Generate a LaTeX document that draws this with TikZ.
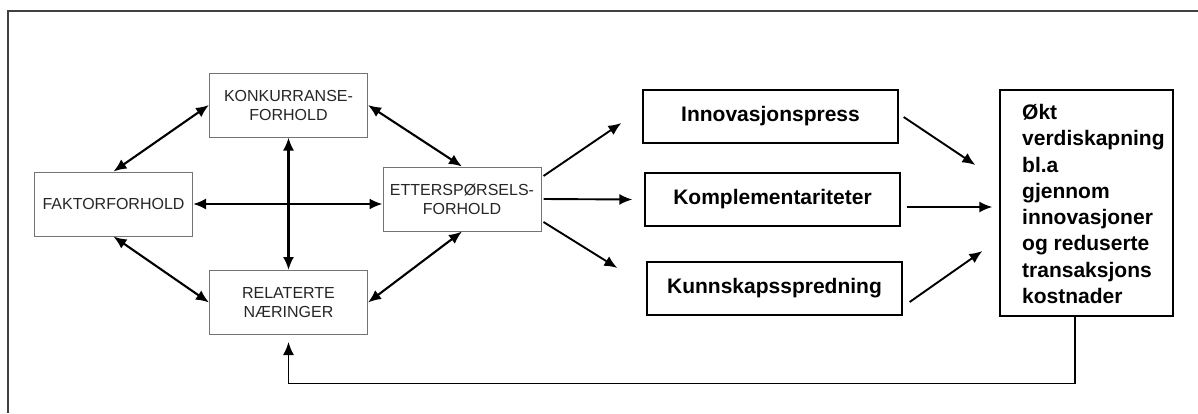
\documentclass[tikz,border=0pt]{standalone}
\usepackage{fontspec}
\setmainfont{Liberation Sans}
\usetikzlibrary{arrows.meta}
\begin{document}
\begin{tikzpicture}[x=1pt,y=-1pt,
  factorbox/.style={draw=black!55, line width=1pt, fill=white, text=black!85,
    align=center, inner sep=0pt, minimum width=158pt, minimum height=64pt,
    font=\fontsize{16}{19}\selectfont},
  effectbox/.style={draw=black, line width=1.3pt, fill=white, inner sep=0pt,
    minimum width=255pt, minimum height=53pt,
    font=\fontsize{21}{26}\selectfont\bfseries},
  twoway/.style={{Latex[length=13pt,width=11pt]}-{Latex[length=13pt,width=11pt]}, line width=2.1pt},
  oneway/.style={-{Latex[length=13pt,width=11pt]}, line width=1.9pt},
]
\useasboundingbox (0,0) rectangle (1198,413);

% outer frame (open at the right and bottom)
\draw[black!75, line width=1.4pt] (8,413) -- (8,11) -- (1198,11);

% Porter's diamond
\node[factorbox] (kon) at (288.5,105) {KONKURRANSE-\\FORHOLD};
\node[factorbox] (fak) at (113.5,204) {FAKTORFORHOLD};
\node[factorbox] (ett) at (462,199) {ETTERSPØRSELS-\\FORHOLD};
\node[factorbox] (rel) at (288.5,302.5) {RELATERTE\\NÆRINGER};

\draw[twoway] (fak.north) -- (kon.west);
\draw[twoway] (kon.east) -- (ett.north);
\draw[twoway] (fak.south) -- (rel.west);
\draw[twoway] (ett.south) -- (rel.east);
\draw[twoway] (kon.south) -- (rel.north);
\draw[twoway] (fak.east) -- (fak.east -| ett.west);

% effects
\node[effectbox] (inn) at (770.5,116.5) {Innovasjonspress};
\node[effectbox] (kom) at (772.5,199.5) {Komplementariteter};
\node[effectbox] (kun) at (774.5,288.5) {Kunnskapsspredning};

\node[draw=black, line width=1.3pt, fill=white, inner sep=0pt,
      minimum width=173pt, minimum height=226pt] (res) at (1086.5,203) {};
\node[anchor=north west, align=left, inner sep=0pt,
      font=\fontsize{21}{26.3}\selectfont\bfseries] (restext) at (1022,104)
  {Økt\\verdiskapning\\bl.a\\gjennom\\innovasjoner\\og reduserte\\transaksjons\\kostnader};

\draw[oneway] ([shift={(2,-23)}]ett.east) -- ([shift={(-21,6.5)}]inn.west);
\draw[oneway] ([shift={(2,0)}]ett.east) -- ([shift={(-12,0)}]kom.west);
\draw[oneway] ([shift={(2,23)}]ett.east) -- ([shift={(-29,-20.5)}]kun.west);

\draw[oneway] ([shift={(5,0.5)}]inn.east) -- ([shift={(-24,-38)}]res.west);
\draw[oneway] ([shift={(6,7.5)}]kom.east) -- ([shift={(-7,4)}]res.west);
\draw[oneway] ([shift={(7,13.5)}]kun.east) -- ([shift={(-17,48)}]res.west);

% feedback loop
\draw[oneway, line width=1.6pt] ([xshift=-11.5pt]res.south) -- ++(0,67)
  -| ([yshift=-7pt]rel.south);
\end{tikzpicture}
\end{document}
